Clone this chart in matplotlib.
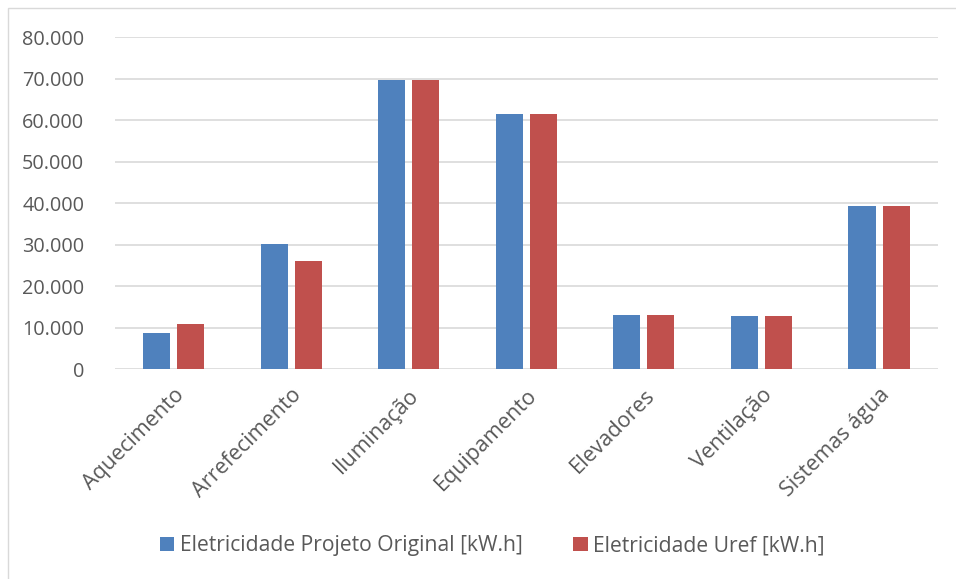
import matplotlib
matplotlib.use("Agg")
import matplotlib.pyplot as plt
from matplotlib.ticker import FuncFormatter
from matplotlib.patches import Rectangle
import numpy as np

# data
categorias = ["Aquecimento", "Arrefecimento", "Iluminação", "Equipamento",
              "Elevadores", "Ventilação", "Sistemas água"]
projeto_original = [8700, 30200, 69600, 61500, 13100, 12800, 39400]
uref = [11000, 26000, 69600, 61500, 13100, 12800, 39400]
series_nomes = ["Eletricidade Projeto Original [kW.h]", "Eletricidade Uref [kW.h]"]
yticks = [0, 10000, 20000, 30000, 40000, 50000, 60000, 70000, 80000]

azul = "#4f81bd"
vermelho = "#c0504d"
cinza_txt = "#595959"
cinza_grid = "#d9d9d9"

plt.rcParams["font.family"] = ["Open Sans", "DejaVu Sans"]

fig = plt.figure(figsize=(9.56, 5.79), dpi=100)
ax = fig.add_axes([0.120, 0.362, 0.861, 0.574])

x = np.arange(len(categorias))
w = 0.23
gap = 0.06
ax.bar(x - (w + gap) / 2, projeto_original, w, color=azul, label=series_nomes[0], zorder=3)
ax.bar(x + (w + gap) / 2, uref, w, color=vermelho, label=series_nomes[1], zorder=3)

ax.set_xlim(-0.5, len(categorias) - 0.5)
ax.set_ylim(0, 80000)
ax.set_yticks(yticks)
ax.yaxis.set_major_formatter(FuncFormatter(lambda v, p: f"{int(v):,}".replace(",", ".")))
ax.grid(axis="y", color=cinza_grid, linewidth=1.2, zorder=0)
for s in ax.spines.values():
    s.set_visible(False)
ax.tick_params(axis="both", length=0, colors=cinza_txt)
ax.tick_params(axis="y", pad=22, labelsize=14.3)
ax.set_xticks(x)
ax.set_xticklabels(categorias, rotation=45, ha="right", rotation_mode="anchor")
ax.tick_params(axis="x", pad=11, labelsize=15.5)

leg = fig.legend(loc="center", bbox_to_anchor=(0.515, 0.057), ncol=2, frameon=False,
                 fontsize=15.2, handlelength=0.7, handleheight=0.7, handletextpad=0.25,
                 columnspacing=2.4)
for t in leg.get_texts():
    t.set_color(cinza_txt)

# light frame: only left and top edges fall inside the picture
fig.patches.append(Rectangle((8 / 956, -0.05), 1.1, 0.05 + 1 - 8 / 579,
                             transform=fig.transFigure, fill=False,
                             edgecolor="#d9d9d9", linewidth=1))

fig.savefig("out.png", dpi=100)
